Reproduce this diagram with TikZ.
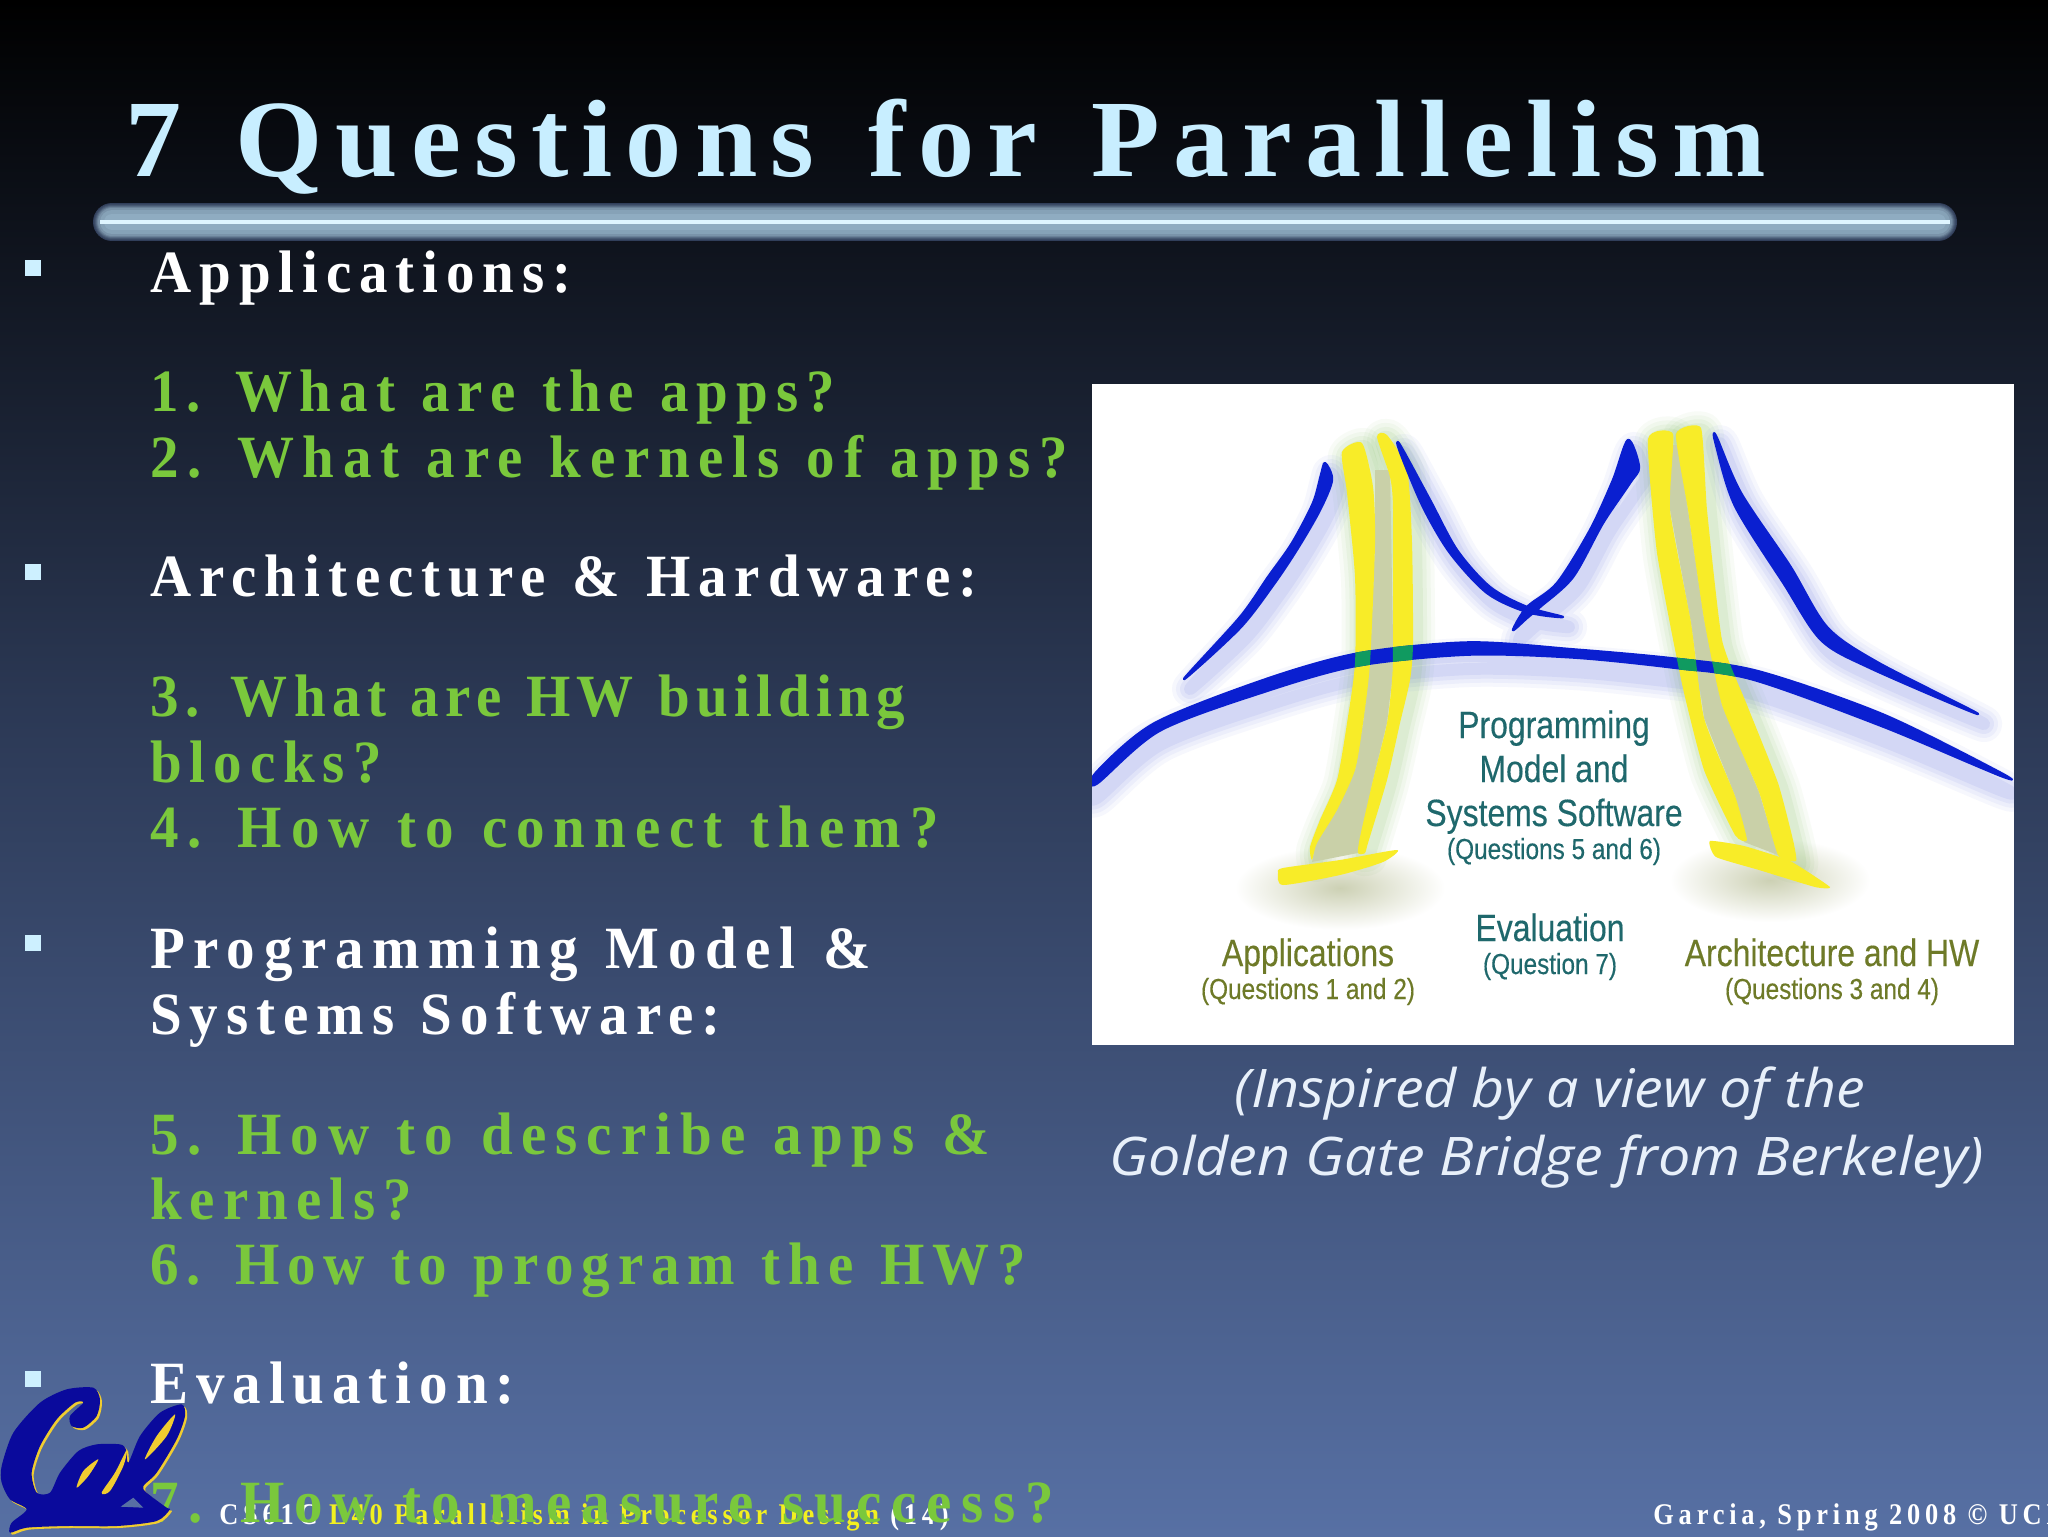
\documentclass[tikz,border=0pt]{standalone}
\usepackage{fontspec}
\newfontfamily\slidefont[FakeStretch=.95,LetterSpace=13.2,WordSpace=1.2]{Liberation Serif}
\newfontfamily\titlefont[FakeStretch=1.02,LetterSpace=12,WordSpace=1.3]{Liberation Serif}
\newfontfamily\footfont[FakeStretch=.88,LetterSpace=16]{Liberation Serif}
\newfontfamily\capfont[FakeStretch=1.08]{Open Sans}
\newfontfamily\figfont[FakeStretch=.84,FakeBold=.3]{Liberation Sans}
\definecolor{bgmid}{HTML}{2B3854}
\definecolor{bgbot}{HTML}{5770A4}
\definecolor{titleblue}{HTML}{C8EEFF}
\definecolor{qgreen}{HTML}{7AC83C}
\definecolor{footyellow}{HTML}{F2F020}
\definecolor{capwhite}{HTML}{E8F0FA}
\definecolor{bridgeblue}{HTML}{0A1FD0}
\definecolor{bridgeyellow}{HTML}{F8EC28}
\definecolor{bridgegray}{HTML}{C9D0A8}
\definecolor{bridgegreen}{HTML}{109A60}
\definecolor{figteal}{HTML}{1F686C}
\definecolor{figolive}{HTML}{6E7A28}
\definecolor{calblue}{HTML}{0A0A9C}
\definecolor{calgold}{HTML}{F0CC30}
% bridge outlines
\newcommand\bluepaths{
  plot[smooth cycle] coordinates {(1184,679) (1240,617) (1268,577) (1292,543) (1313,503) (1321,475) (1325,463) (1332,480) (1320,510) (1298,548) (1274,584) (1240,628)}
  plot[smooth cycle] coordinates {(1400,445) (1430,500) (1457,550) (1490,587) (1527,607) (1563,617) (1527,612) (1487,593) (1450,553) (1423,507) (1400,452)}
  plot[smooth cycle] coordinates {(1513,630) (1527,607) (1557,583) (1590,530) (1613,480) (1628,440) (1639,467) (1630,483) (1603,523) (1573,577) (1540,607) (1527,618)}
  plot[smooth cycle] coordinates {(1716,436) (1741,493) (1790,566) (1827,627) (1877,662) (1978,714) (1870,668) (1821,640) (1784,584) (1735,506) (1716,445)}
}
\newcommand\deckpath{
  plot[smooth cycle] coordinates {(1096,772) (1154,723) (1265,679) (1358,653) (1469,642) (1574,649) (1673,658) (1759,671) (1883,714) (2000,772) (2000,776) (1883,727) (1753,680) (1673,668) (1574,658) (1469,655) (1358,666) (1265,692) (1160,731) (1097,784)}
}
\newcommand\legA{plot[smooth cycle,tension=.4] coordinates {(1342,452) (1362,443) (1373,487) (1375,543) (1370,663) (1363,723) (1355,770) (1337,810) (1317,843) (1312,860) (1310,847) (1320,820) (1337,780) (1347,723) (1355,663) (1355,577) (1347,493)}}
\newcommand\legB{plot[smooth cycle,tension=.4] coordinates {(1377,437) (1387,435) (1407,470) (1412,543) (1413,643) (1410,680) (1400,723) (1387,780) (1368,843) (1365,853) (1358,853) (1360,837) (1373,780) (1387,723) (1392,680) (1393,643) (1393,510) (1390,477)}}
\newcommand\legC{plot[smooth cycle,tension=.3] coordinates {(1648,439) (1673,434) (1670,510) (1691,623) (1704,718) (1735,796) (1747,840) (1735,835) (1704,770) (1682,684) (1657,553)}}
\newcommand\legD{plot[smooth cycle,tension=.3] coordinates {(1676,434) (1701,428) (1707,510) (1722,640) (1747,705) (1778,783) (1793,840) (1796,861) (1778,855) (1759,792) (1722,705) (1704,619) (1688,510)}}
\tikzset{
  slidetext/.style={anchor=base west,inner sep=0pt,yshift=1pt,font=\slidefont\bfseries\fontsize{30}{36}\selectfont},
  headline/.style={slidetext,text=white},
  question/.style={slidetext,text=qgreen},
  bulletbox/.style={fill=titleblue!90!white,minimum size=8pt,inner sep=0pt},
  caption/.style={anchor=base,inner sep=0pt,text=capwhite,font=\capfont\itshape\fontsize{26.6}{30}\selectfont},
  footer/.style={anchor=base west,inner sep=0pt,text=white,font=\footfont\bfseries\fontsize{15}{18}\selectfont},
  figbig/.style={anchor=base,inner sep=0pt,font=\figfont\fontsize{19}{22}\selectfont},
  figsmall/.style={anchor=base,inner sep=0pt,font=\figfont\fontsize{14.5}{18}\selectfont},
}
\begin{document}
\begin{tikzpicture}[x=.5pt,y=-.5pt]
\useasboundingbox (0,0) rectangle (2048,1536);
\clip (0,0) rectangle (2048,1536);
% background
\shade[top color=black,bottom color=bgmid] (0,0) rectangle (2048,701);
\shade[top color=bgmid,bottom color=bgbot] (0,700) rectangle (2048,1536);
% title bar
\foreach \w/\c in {19/4,18/10,17/18,16/28,15/40,14/50,12/58,8/64} {
  \draw[line width=\w pt,line cap=round,color=titleblue!\c!bgmid] (112,222) -- (1938,222);
}
\draw[line width=1.6pt,titleblue!60!white] (100,222) -- (1950,222);
\node[anchor=base west,inner sep=0pt,text=titleblue,font=\titlefont\bfseries\fontsize{55}{60}\selectfont] (title) at (125,176) {7 Questions for Parallelism};
% bullets
\node[bulletbox] (bulletA) at (33,268) {};
\node[bulletbox] (bulletB) at (33,572) {};
\node[bulletbox] (bulletC) at (33,943) {};
\node[bulletbox] (bulletD) at (33,1379) {};
% list
\node[headline] (apps) at (150,294) {Applications:};
\node[question] (qone) at (150,413) {1. What are the apps?};
\node[question] (qtwo) at (150,479) {\addfontfeature{LetterSpace=14.5}2. What are kernels of apps?};
\node[headline] (arch) at (150,598) {Architecture \& Hardware:};
\node[question] (qthree) at (150,718) {\addfontfeature{LetterSpace=10.5}3. What are HW building};
\node[question] (qthreeb) at (150,784) {blocks?};
\node[question] (qfour) at (150,849) {\addfontfeature{LetterSpace=15}4. How to connect them?};
\node[headline] (prog) at (150,970) {\addfontfeature{LetterSpace=14.5}Programming Model \&};
\node[headline] (progb) at (150,1036) {Systems Software:};
\node[question] (qfive) at (150,1156) {\addfontfeature{LetterSpace=14.8}5. How to describe apps \&};
\node[question] (qfiveb) at (150,1221) {kernels?};
\node[question] (qsix) at (150,1286) {6. How to program the HW?};
\node[headline] (eval) at (150,1405) {Evaluation:};
% footer
\node[footer] (footleft) at (219,1524) {CS61C \textcolor{footyellow}{L40 Parallelism in Processor Design} (14)};
\node[footer] (footright) at (1653,1524) {Garcia, Spring 2008 © UCB};
\node[question] (qseven) at (150,1524) {\addfontfeature{LetterSpace=16.5}7. How to measure success?};
% cal logo
\begin{scope}[shift={(0,1376)},x=.16667pt,y=-.16667pt]
\foreach \c/\dx in {calgold/1pt,calblue/0pt} {
  \fill[\c,xshift=\dx,yshift=-\dx] plot[smooth cycle,tension=.45] coordinates {(5,270) (40,170) (120,80) (200,40) (280,35) (300,70) (290,120) (250,155) (215,150) (210,120) (250,80) (225,80) (170,130) (120,210) (95,290) (110,350) (150,350) (180,290) (235,225) (290,205) (360,205) (378,220) (385,260) (420,180) (480,110) (545,85) (555,120) (530,190) (470,290) (430,330) (440,350) (500,395) (510,400) (470,435) (350,450) (200,450) (80,455) (30,470) (35,440) (80,400) (30,370) (5,320)};
}
\fill[calgold] plot[smooth cycle] coordinates {(230,335) (250,285) (295,250) (265,300)};
\fill[calgold] plot[smooth cycle] coordinates {(435,250) (470,180) (525,115) (500,180)};
\fill[calgold] plot[smooth cycle] coordinates {(305,350) (345,290) (380,222) (370,270) (330,345)};
\fill[bgbot] (362,392) -- (400,365) -- (430,395) -- cycle;
\end{scope}
% bridge figure
\fill[white] (1092,384) rectangle (2014,1045);
\begin{scope}
\clip (1092,384) rectangle (2014,1045);
\shade[inner color=figolive!35!white,outer color=white] (1340,888) ellipse (105 and 42);
\shade[inner color=figolive!35!white,outer color=white] (1770,880) ellipse (100 and 42);
\foreach \w/\o in {18/.06,14/.07,10/.09,6/.11} {
  \draw[line width=\w pt,line join=round,bridgeblue!60!white,opacity=\o,xshift=3pt,yshift=-5pt] \bluepaths;
  \draw[line width=\w pt,line join=round,bridgeblue!60!white,opacity=\o,yshift=-7pt] \deckpath;
  \foreach \leg in {\legA,\legB,\legC,\legD} {
    \draw[line width=\w pt,line join=round,figolive!70!green,opacity=.6*\o,xshift=2pt,yshift=-2pt] \leg;
  }
}
\fill[bridgegray] (1375,470) -- (1390,470) -- (1393,640) -- (1392,680) -- (1387,723) -- (1373,780) -- (1358,853) -- (1312,862) -- (1320,820) -- (1337,790) -- (1355,770) -- (1363,723) -- (1370,663) -- (1375,543) -- cycle;
\fill[bridgegray] (1670,445) -- (1678,445) -- (1688,510) -- (1704,619) -- (1722,705) -- (1759,792) -- (1778,855) -- (1744,842) -- (1735,796) -- (1704,718) -- (1691,623) -- (1670,510) -- cycle;
\foreach \leg in {\legA,\legB,\legC,\legD} {
  \fill[bridgeyellow] \leg;
}
% feet
\fill[bridgeyellow] plot[smooth cycle,tension=.4] coordinates {(1278,873) (1283,868) (1340,860) (1397,850) (1383,862) (1340,875) (1283,885)};
\fill[bridgeyellow] plot[smooth cycle,tension=.3] coordinates {(1710,841) (1744,846) (1790,861) (1830,887) (1815,887) (1759,870) (1716,857)};
\filldraw[bridgeblue,line width=1.2pt,line join=round] \bluepaths;
\filldraw[bridgeblue,line width=.8pt,line join=round] \deckpath;
\foreach \leg in {\legA,\legB,\legC,\legD} {
  \begin{scope}
  \clip \leg;
  \filldraw[bridgegreen,line width=.8pt] \deckpath;
  \end{scope}
}
\end{scope}
\node[figbig,text=figteal] (progfig) at (1554,738) {Programming};
\node[figbig,text=figteal] (modelfig) at (1554,782) {Model and};
\node[figbig,text=figteal] (sysfig) at (1554,826) {Systems Software};
\node[figsmall,text=figteal] (qfig) at (1554,859) {(Questions 5 and 6)};
\node[figbig,text=figteal] (evalfig) at (1550,941) {Evaluation};
\node[figsmall,text=figteal] (evalq) at (1550,974) {(Question 7)};
\node[figbig,text=figolive] (appfig) at (1308,966) {Applications};
\node[figsmall,text=figolive] (appq) at (1308,999) {(Questions 1 and 2)};
\node[figbig,text=figolive] (archfig) at (1832,966) {Architecture and HW};
\node[figsmall,text=figolive] (archq) at (1832,999) {(Questions 3 and 4)};
% caption
\node[caption] (capa) at (1550,1107) {(Inspired by a view of the};
\node[caption] (capb) at (1547,1175) {Golden Gate Bridge from Berkeley)};
\end{tikzpicture}
\end{document}
